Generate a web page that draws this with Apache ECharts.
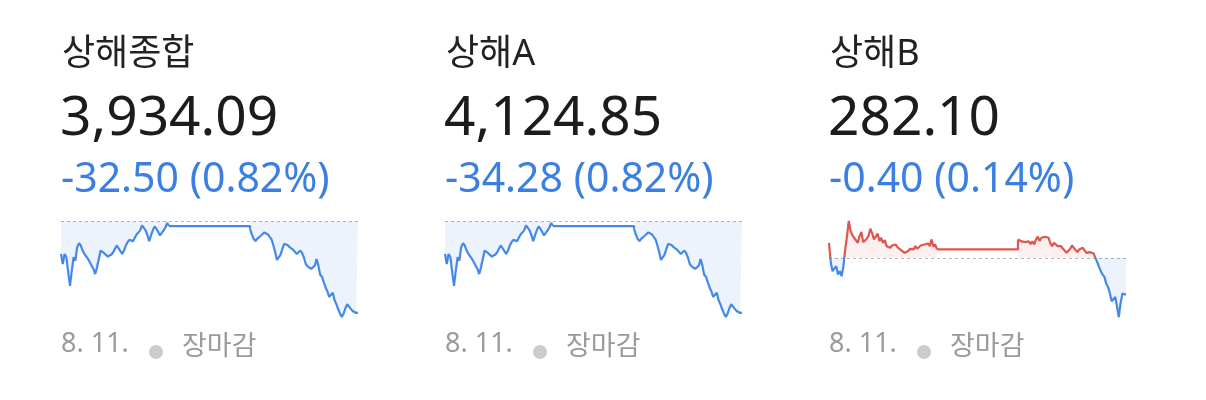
<!DOCTYPE html>
<html><head><meta charset="utf-8">
<script src="https://cdn.jsdelivr.net/npm/echarts@6/dist/echarts.min.js"></script>
<style>html,body{margin:0;padding:0;background:#fff}#c{width:1206px;height:400px}</style>
</head><body><div id="c"></div>
<script>
// ---- data ----
const names = ['상해종합', '상해A', '상해B'];
const lastValues = ['3,934.09', '4,124.85', '282.10'];
const changeLabels = ['-32.50 (0.82%)', '-34.28 (0.82%)', '-0.40 (0.14%)'];
const prevCloses = [3966.59, 4159.13, 282.50];
const dateLabel = '8. 11.';
const statusLabel = '장마감';

// minutes since 09:30 (morning 09:30-11:30, afternoon 13:00-15:00)
const amTimes = [0,2,4,6,8,10,12,14,16,18,20,22,24,26,28,30,32,34,36,38,40,42,44,46,48,50,52,54,56,58,60,62,64,66,68,70,72,74,76,78,80,82,84,86,88,90,92,94,96,98,100,102,104,106,108,110,112,114,116,118,120];
const pmTimes = [210,212,214,216,218,220,222,224,226,228,230,232,234,236,238,240,242,244,246,248,250,252,254,256,258,260,262,264,266,268,270,272,274,276,278,280,282,284,286,288,290,292,294,296,298,300,302,304,306,308,310,312,314,316,318,320,322,324,326,328,330];
const axisMaxMinute = 330;

const compAm = [3954.92,3951.35,3954.92,3953.73,3948.38,3943.61,3948.97,3953.73,3952.54,3957.30,3958.73,3957.90,3956.11,3954.92,3954.33,3953.14,3951.95,3951.35,3949.57,3947.78,3950.16,3953.14,3956.11,3955.88,3955.16,3954.92,3953.97,3954.33,3954.68,3955.52,3956.71,3957.90,3957.30,3955.88,3954.92,3956.11,3957.90,3959.09,3959.92,3960.28,3959.45,3960.64,3961.83,3962.07,3963.26,3965.04,3965.40,3963.26,3961.47,3959.45,3961.47,3963.26,3964.69,3963.85,3962.66,3961.47,3962.07,3963.26,3964.21,3965.88,3964.80];
const compPm = [3963.85,3961.83,3960.28,3959.45,3960.28,3960.64,3961.35,3961.11,3962.54,3963.02,3961.83,3960.88,3960.04,3957.90,3955.52,3952.78,3952.54,3954.68,3956.71,3958.49,3959.09,3958.02,3957.30,3956.71,3956.35,3955.64,3954.92,3954.33,3956.11,3955.16,3953.49,3951.35,3950.52,3950.76,3949.57,3949.21,3950.76,3953.14,3950.76,3947.54,3946.83,3944.80,3943.02,3941.59,3939.68,3940.40,3941.11,3938.49,3937.07,3935.28,3933.73,3932.54,3933.73,3935.64,3937.07,3936.47,3935.40,3934.68,3934.21,3933.97,3934.09];

const aAm = [4146.82,4143.05,4146.82,4145.57,4139.92,4134.89,4140.54,4145.57,4144.31,4149.33,4150.84,4149.96,4148.08,4146.82,4146.20,4144.94,4143.69,4143.05,4141.18,4139.29,4141.80,4144.94,4148.08,4147.83,4147.07,4146.82,4145.82,4146.20,4146.57,4147.45,4148.71,4149.96,4149.33,4147.83,4146.82,4148.08,4149.96,4151.22,4152.09,4152.47,4151.60,4152.85,4154.11,4154.36,4155.62,4157.50,4157.87,4155.62,4153.73,4151.60,4153.73,4155.62,4157.13,4156.24,4154.98,4153.73,4154.36,4155.62,4156.62,4158.38,4157.24];
const aPm = [4156.24,4154.11,4152.47,4151.60,4152.47,4152.85,4153.60,4153.35,4154.86,4155.36,4154.11,4153.11,4152.22,4149.96,4147.45,4144.56,4144.31,4146.57,4148.71,4150.59,4151.22,4150.09,4149.33,4148.71,4148.33,4147.58,4146.82,4146.20,4148.08,4147.07,4145.31,4143.05,4142.18,4142.43,4141.18,4140.80,4142.43,4144.94,4142.43,4139.04,4138.29,4136.15,4134.27,4132.76,4130.75,4131.50,4132.25,4129.49,4127.99,4126.10,4124.47,4123.21,4124.47,4126.48,4127.99,4127.36,4126.23,4125.47,4124.98,4124.72,4124.85];

const bAm = [282.663,282.446,282.355,282.373,282.409,282.318,282.355,282.300,282.409,282.591,282.736,282.900,282.791,282.743,282.718,282.700,282.663,282.736,282.780,282.671,282.656,282.707,282.743,282.816,282.765,282.700,282.729,282.765,282.682,282.718,282.663,282.693,282.627,282.645,282.609,282.634,282.627,282.645,282.616,282.598,282.584,282.573,282.554,282.536,282.573,282.598,282.609,282.591,282.627,282.598,282.609,282.634,282.613,282.645,282.627,282.656,282.627,282.700,282.620,282.645,282.591];
const bPm = [282.700,282.693,282.678,282.663,282.671,282.663,282.678,282.649,282.678,282.645,282.700,282.729,282.682,282.718,282.736,282.729,282.736,282.718,282.656,282.627,282.663,282.645,282.627,282.609,282.627,282.598,282.584,282.554,282.547,282.598,282.634,282.634,282.584,282.562,282.591,282.584,282.609,282.591,282.554,282.573,282.562,282.569,282.547,282.500,282.453,282.402,282.355,282.318,282.293,282.220,282.184,282.119,282.028,282.010,282.075,281.973,281.857,282.010,282.111,282.100,282.100];

// ---- rendering ----
const FONT = '"Noto Sans", "Noto Sans CJK KR", sans-serif';
const BLUE = '#4589e8', RED = '#df5650', TEXT_BLUE = '#3b7fe3';
const BLUE_FILL = 'rgba(74,138,232,0.15)', RED_FILL = 'rgba(224,87,79,0.13)';
const colX = [62, 446, 830];
const gridLeft = [61, 445, 829];
const GRID_TOP = 221, GRID_H = 96;
const panels = [
  { am: compAm, pm: compPm, prev: prevCloses[0] },
  { am: aAm, pm: aPm, prev: prevCloses[1] },
  { am: bAm, pm: bPm, prev: prevCloses[2] }
];

function splitGradient(f, up, down) {
  return {
    type: 'linear', x: 0, y: GRID_TOP, x2: 0, y2: GRID_TOP + GRID_H, global: true,
    colorStops: [{ offset: 0, color: up }, { offset: f, color: up }, { offset: f, color: down }, { offset: 1, color: down }]
  };
}

const grids = [], xAxes = [], yAxes = [], series = [], graphics = [];
panels.forEach((p, i) => {
  grids.push({ left: gridLeft[i], top: GRID_TOP, width: 297, height: GRID_H });
  xAxes.push({ type: 'value', gridIndex: i, min: 0, max: axisMaxMinute, show: false });
  const all = p.am.concat(p.pm, [p.prev]);
  const yMin = Math.min(...all), yMax = Math.max(...all);
  yAxes.push({ type: 'value', gridIndex: i, min: yMin, max: yMax, show: false });
  const f = (yMax - p.prev) / (yMax - yMin);
  const lineColor = f > 0.001 ? splitGradient(f, RED, BLUE) : BLUE;
  const areaColor = f > 0.001 ? splitGradient(f, RED_FILL, BLUE_FILL) : BLUE_FILL;
  const mk = (times, vals, withMark) => {
    const s = {
      type: 'line', xAxisIndex: i, yAxisIndex: i, showSymbol: false, symbol: 'none',
      data: times.map((t, k) => [t, vals[k]]),
      lineStyle: { width: 2.2, color: lineColor },
      itemStyle: { color: BLUE },
      areaStyle: { origin: p.prev, color: areaColor },
      z: 3
    };
    if (withMark) {
      s.markLine = {
        silent: true, symbol: ['none', 'none'], label: { show: false },
        lineStyle: { color: '#b4b4b4', type: [3, 3], width: 1 },
        data: [{ yAxis: p.prev }], z: 1
      };
    }
    return s;
  };
  series.push(mk(amTimes, p.am, true));
  series.push(mk(pmTimes, p.pm, false));
  const lastAm = p.am[p.am.length - 1];
  const lunchColor = lastAm > p.prev ? RED : BLUE;
  series.push({
    type: 'line', xAxisIndex: i, yAxisIndex: i, showSymbol: false, symbol: 'none', z: 3,
    data: [[amTimes[amTimes.length - 1], lastAm], [pmTimes[0], lastAm], [pmTimes[0], p.pm[0]]],
    lineStyle: { width: 2.2, color: lunchColor }, itemStyle: { color: lunchColor }
  });

  const x = colX[i];
  graphics.push({ type: 'text', x: x, y: 55, style: { text: names[i], font: '36px ' + FONT, fill: '#222222', align: 'left', verticalAlign: 'middle' } });
  graphics.push({ type: 'text', x: x - 2, y: 119, style: { text: lastValues[i], font: '55px ' + FONT, fill: '#1c1c1c', align: 'left', verticalAlign: 'middle' } });
  graphics.push({ type: 'text', x: x - 1, y: 180, style: { text: changeLabels[i], font: '41px ' + FONT, fill: TEXT_BLUE, align: 'left', verticalAlign: 'middle' } });
  graphics.push({ type: 'text', x: x - 1, y: 344, style: { text: dateLabel, font: '27px ' + FONT, fill: '#9a9a9a', align: 'left', verticalAlign: 'middle' } });
  graphics.push({ type: 'circle', shape: { cx: x + 94, cy: 352, r: 7 }, style: { fill: '#cccccc' } });
  graphics.push({ type: 'text', x: x + 120, y: 347, style: { text: statusLabel, font: '27px ' + FONT, fill: '#9a9a9a', align: 'left', verticalAlign: 'middle' } });
});

const chart = echarts.init(document.getElementById('c'), null, { renderer: 'canvas' });
chart.setOption({
  animation: false,
  backgroundColor: '#ffffff',
  grid: grids, xAxis: xAxes, yAxis: yAxes, series: series,
  graphic: graphics
});
</script></body></html>
